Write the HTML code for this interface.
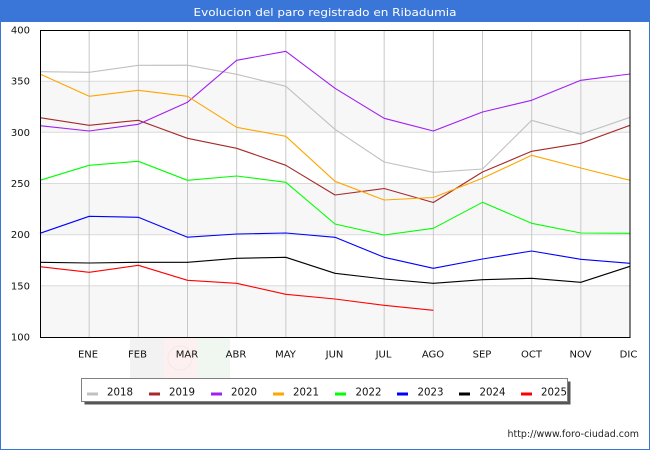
<!DOCTYPE html>
<html><head><meta charset="utf-8"><style>
html,body{margin:0;padding:0;background:#fff;}
svg{display:block;font-family:"DejaVu Sans","Liberation Sans",sans-serif;}
</style></head><body>
<svg width="650" height="450" viewBox="0 0 650 450" xmlns="http://www.w3.org/2000/svg">
<rect x="0" y="0" width="650" height="450" fill="#fff"/>
<rect x="0.5" y="0.5" width="649" height="449" fill="none" stroke="#3a75d8" stroke-width="1"/>
<rect x="0" y="0" width="650" height="22" fill="#3a75d8"/>
<text x="325" y="16" text-anchor="middle" fill="#fff" font-size="11" textLength="263" lengthAdjust="spacingAndGlyphs">Evolucion del paro registrado en Ribadumia</text>

<!-- watermark -->
<rect x="130" y="338" width="33.5" height="40" fill="#f1f2f1"/>
<rect x="163.5" y="338" width="34" height="40" fill="#fcf0f0"/>
<rect x="197.5" y="338" width="32.5" height="40" fill="#f0f7f0"/>
<circle cx="180" cy="358" r="12" fill="none" stroke="#f8eaea" stroke-width="1.5"/>

<!-- bands -->
<rect x="40" y="81.2" width="590" height="51.1" fill="#f7f7f7"/>
<rect x="40" y="183.5" width="590" height="51.2" fill="#f7f7f7"/>
<rect x="40" y="285.8" width="590" height="51.2" fill="#f7f7f7"/>
<!-- horizontal grid -->
<g stroke="#dadada" stroke-width="1">
<line x1="40" y1="81.2" x2="630" y2="81.2"/>
<line x1="40" y1="132.3" x2="630" y2="132.3"/>
<line x1="40" y1="183.5" x2="630" y2="183.5"/>
<line x1="40" y1="234.7" x2="630" y2="234.7"/>
<line x1="40" y1="285.8" x2="630" y2="285.8"/>
</g>
<!-- vertical grid -->
<g stroke="#c8c8c8" stroke-width="1">
<line x1="89.17" y1="30" x2="89.17" y2="337"/>
<line x1="138.33" y1="30" x2="138.33" y2="337"/>
<line x1="187.5" y1="30" x2="187.5" y2="337"/>
<line x1="236.67" y1="30" x2="236.67" y2="337"/>
<line x1="285.83" y1="30" x2="285.83" y2="337"/>
<line x1="335" y1="30" x2="335" y2="337"/>
<line x1="384.17" y1="30" x2="384.17" y2="337"/>
<line x1="433.33" y1="30" x2="433.33" y2="337"/>
<line x1="482.5" y1="30" x2="482.5" y2="337"/>
<line x1="531.67" y1="30" x2="531.67" y2="337"/>
<line x1="580.83" y1="30" x2="580.83" y2="337"/>
</g>

<!-- series -->
<g fill="none" stroke-width="1.1" stroke-linejoin="round">
<polyline stroke="#c0c0c0" points="40,71.7 89.17,72.3 138.33,65.3 187.5,65.2 236.67,74.3 285.83,86.3 335,129.3 384.17,162 433.33,172.3 482.5,169 531.67,120.3 580.83,134.3 630,117.3"/>
<polyline stroke="#a52a2a" points="40,117.7 89.17,125.3 138.33,120.3 187.5,138.3 236.67,148.3 285.83,165.3 335,195 384.17,188.5 433.33,202.5 482.5,172 531.67,151.3 580.83,143.3 630,125.3"/>
<polyline stroke="#a020f0" points="40,125.7 89.17,131 138.33,124.3 187.5,102.2 236.67,60.3 285.83,51.3 335,88.3 384.17,118.3 433.33,131 482.5,112 531.67,100.3 580.83,80.3 630,74"/>
<polyline stroke="#ffa500" points="40,74 89.17,96.3 138.33,90.3 187.5,96.3 236.67,127.3 285.83,136.3 335,181.3 384.17,200 433.33,197.5 482.5,178.3 531.67,155.3 580.83,168 630,180.3"/>
<polyline stroke="#00ff00" points="40,180.3 89.17,165.3 138.33,161.3 187.5,180.3 236.67,176 285.83,182.3 335,224 384.17,235 433.33,228.3 482.5,202.3 531.67,223.3 580.83,233 630,233.3"/>
<polyline stroke="#0000ff" points="40,233.3 89.17,216.3 138.33,217.3 187.5,237.2 236.67,234 285.83,233 335,237.3 384.17,257.3 433.33,268.3 482.5,259 531.67,251 580.83,259.3 630,263.3"/>
<polyline stroke="#000000" points="40,262.3 89.17,263 138.33,262.3 187.5,262.3 236.67,258.3 285.83,257.3 335,273.3 384.17,279 433.33,283.3 482.5,279.7 531.67,278.3 580.83,282.3 630,266.3"/>
<polyline stroke="#ff0000" points="40,266.7 89.17,272.3 138.33,265.3 187.5,280.3 236.67,283.3 285.83,294.3 335,299 384.17,305.3 433.33,310.3"/>
</g>

<!-- plot border -->
<rect x="40.5" y="30.5" width="589.5" height="307" fill="none" stroke="#000" stroke-width="1"/>

<!-- y labels -->
<g font-size="10" fill="#111" text-anchor="end">
<text x="30" y="33.5">400</text>
<text x="30" y="84.7">350</text>
<text x="30" y="135.8">300</text>
<text x="30" y="187">250</text>
<text x="30" y="238.2">200</text>
<text x="30" y="289.3">150</text>
<text x="30" y="340.5">100</text>
</g>
<!-- x labels -->
<g font-size="10" fill="#111" text-anchor="middle">
<text x="88" y="357.5">ENE</text>
<text x="137.5" y="357.5">FEB</text>
<text x="187" y="357.5">MAR</text>
<text x="236" y="357.5">ABR</text>
<text x="285.5" y="357.5">MAY</text>
<text x="334.5" y="357.5">JUN</text>
<text x="383.5" y="357.5">JUL</text>
<text x="433" y="357.5">AGO</text>
<text x="482" y="357.5">SEP</text>
<text x="531.5" y="357.5">OCT</text>
<text x="580.5" y="357.5">NOV</text>
<text x="628.5" y="357.5">DIC</text>
</g>

<!-- legend -->
<rect x="84.5" y="381.5" width="486" height="23" fill="#555"/>
<rect x="81.5" y="378.5" width="486" height="23" fill="#fff" stroke="#808080" stroke-width="1"/>
<g stroke-width="3">
<line x1="87" y1="394" x2="98" y2="394" stroke="#c0c0c0"/>
<line x1="149" y1="394" x2="160" y2="394" stroke="#a52a2a"/>
<line x1="211" y1="394" x2="222" y2="394" stroke="#a020f0"/>
<line x1="273" y1="394" x2="284" y2="394" stroke="#ffa500"/>
<line x1="335" y1="394" x2="346" y2="394" stroke="#00ff00"/>
<line x1="397" y1="394" x2="408" y2="394" stroke="#0000ff"/>
<line x1="459" y1="394" x2="470" y2="394" stroke="#000000"/>
<line x1="521" y1="394" x2="532" y2="394" stroke="#ff0000"/>
</g>
<g font-size="10.2" fill="#111">
<text x="107" y="395.5" textLength="26" lengthAdjust="spacingAndGlyphs">2018</text>
<text x="169" y="395.5" textLength="26" lengthAdjust="spacingAndGlyphs">2019</text>
<text x="231" y="395.5" textLength="26" lengthAdjust="spacingAndGlyphs">2020</text>
<text x="293" y="395.5" textLength="26" lengthAdjust="spacingAndGlyphs">2021</text>
<text x="355.5" y="395.5" textLength="26" lengthAdjust="spacingAndGlyphs">2022</text>
<text x="417.5" y="395.5" textLength="26" lengthAdjust="spacingAndGlyphs">2023</text>
<text x="479.5" y="395.5" textLength="26" lengthAdjust="spacingAndGlyphs">2024</text>
<text x="541" y="395.5" textLength="26" lengthAdjust="spacingAndGlyphs">2025</text>
</g>

<text x="507.5" y="437" font-size="9.5" fill="#222" textLength="131.5" lengthAdjust="spacingAndGlyphs">http://www.foro-ciudad.com</text>
</svg>
</body></html>
